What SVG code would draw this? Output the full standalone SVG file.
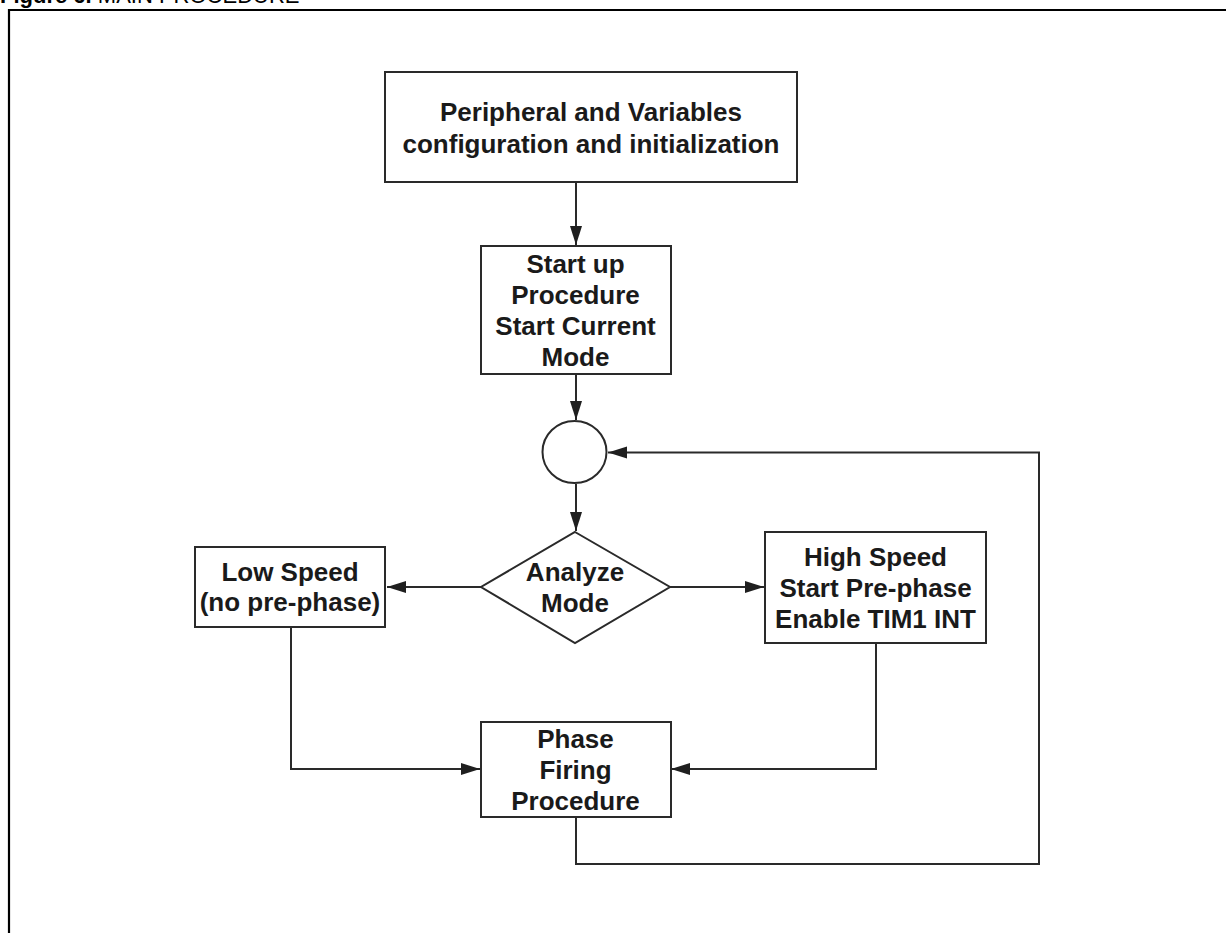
<svg xmlns="http://www.w3.org/2000/svg" width="1226" height="933" viewBox="0 0 1226 933">
<style>
.t{font-family:"Liberation Sans",Arial,sans-serif;font-weight:bold;font-size:26px;fill:#1a1a1a;text-anchor:middle}
.box{fill:#fff;stroke:#2a2a2a;stroke-width:2}
.c{fill:none;stroke:#2a2a2a;stroke-width:2}
</style>
<defs>
<marker id="ah" markerUnits="userSpaceOnUse" markerWidth="20" markerHeight="14" refX="19" refY="6" orient="auto">
<path d="M0,0 L19,6 L0,12 Z" fill="#1f1f1f"/>
</marker>
</defs>
<rect width="1226" height="933" fill="#fff"/>
<text x="0" y="3" font-family="Liberation Sans,Arial,sans-serif" font-size="22" fill="#000"><tspan font-weight="bold">Figure 6.</tspan> MAIN PROCEDURE</text>
<path d="M9,933 V10 H1226" fill="none" stroke="#000" stroke-width="2.2"/>

<g id="connectors">
<path class="c" d="M576,182 V245" marker-end="url(#ah)"/>
<path class="c" d="M576,374 V420" marker-end="url(#ah)"/>
<path class="c" d="M576,484 V531" marker-end="url(#ah)"/>
<path class="c" d="M481,587 H387" marker-end="url(#ah)"/>
<path class="c" d="M670,587 H764" marker-end="url(#ah)"/>
<path class="c" d="M291,627 V769 H480" marker-end="url(#ah)"/>
<path class="c" d="M876,643 V769 H671" marker-end="url(#ah)"/>
<path class="c" d="M576,817 V864 H1039 V452.5 H608" marker-end="url(#ah)"/>
</g>

<g id="node-init">
<rect class="box" x="385" y="72" width="412" height="110"/>
<text class="t" x="591" y="121">Peripheral and Variables</text>
<text class="t" x="591" y="153">configuration and initialization</text>
</g>
<g id="node-startup">
<rect class="box" x="481" y="246" width="190" height="128"/>
<text class="t" x="575.5" y="273">Start up</text>
<text class="t" x="575.5" y="304">Procedure</text>
<text class="t" x="575.5" y="335">Start Current</text>
<text class="t" x="575.5" y="366">Mode</text>
</g>
<g id="node-junction">
<ellipse class="box" cx="574.5" cy="452" rx="32" ry="31"/>
</g>
<g id="node-analyze">
<polygon class="box" points="575,532 670,587 575,643 481,587"/>
<text class="t" x="575" y="581">Analyze</text>
<text class="t" x="575" y="612">Mode</text>
</g>
<g id="node-low">
<rect class="box" x="195" y="547" width="190" height="80"/>
<text class="t" x="290" y="581">Low Speed</text>
<text class="t" x="290" y="611">(no pre-phase)</text>
</g>
<g id="node-high">
<rect class="box" x="765" y="532" width="221" height="111"/>
<text class="t" x="875.5" y="566">High Speed</text>
<text class="t" x="875.5" y="597">Start Pre-phase</text>
<text class="t" x="875.5" y="628">Enable TIM1 INT</text>
</g>
<g id="node-phase">
<rect class="box" x="481" y="722" width="190" height="95"/>
<text class="t" x="575.5" y="748">Phase</text>
<text class="t" x="575.5" y="779">Firing</text>
<text class="t" x="575.5" y="810">Procedure</text>
</g>
</svg>
